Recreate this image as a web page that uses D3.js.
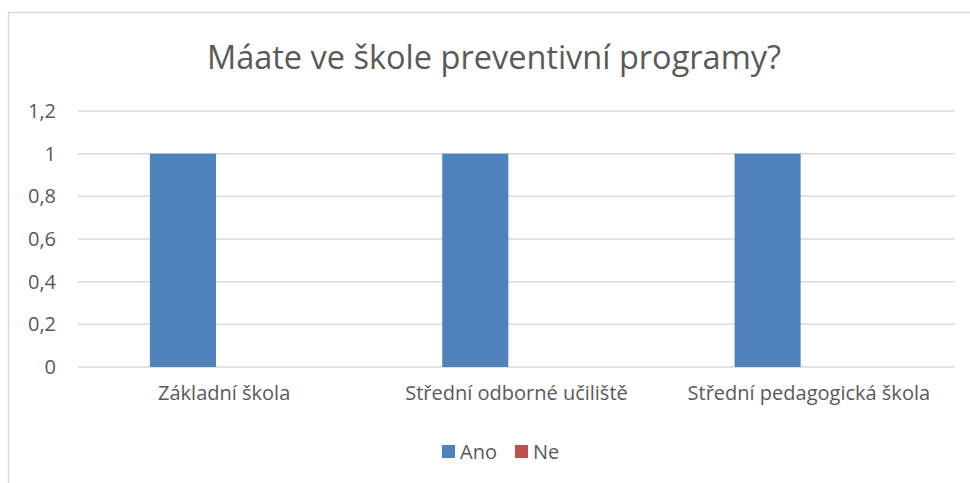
<!DOCTYPE html>
<html>
<head>
<meta charset="utf-8">
<script src="https://cdn.jsdelivr.net/npm/d3@7"></script>
<style>
  html, body { margin: 0; padding: 0; background: #fff; }
  svg text { font-family: "Open Sans", "Noto Sans", sans-serif; fill: #595959; }
</style>
</head>
<body>
<script>
// data
const categories = ["Základní škola", "Střední odborné učiliště", "Střední pedagogická škola"];
const seriesNames = ["Ano", "Ne"];
const anoValues = [1, 1, 1];
const neValues = [0, 0, 0];
const yTicks = [0, 0.2, 0.4, 0.6, 0.8, 1, 1.2];
const colors = ["#4F81BD", "#C0504D"];
const title = "Máate ve škole preventivní programy?";

const onReady = () => {
  const width = 970, height = 483;
  const margin = { top: 111, right: 15, bottom: 116, left: 78 };

  const svg = d3.select("body").append("svg")
    .attr("width", width)
    .attr("height", height);

  // chart frame
  svg.append("rect")
    .attr("x", 8.5).attr("y", 12.5)
    .attr("width", width + 10).attr("height", height + 10)
    .attr("fill", "none")
    .attr("stroke", "#d9d9d9")
    .attr("stroke-width", 1.5);

  const rows = categories.map((c, i) => ({ cat: c, Ano: anoValues[i], Ne: neValues[i] }));

  const x0 = d3.scaleBand()
    .domain(categories)
    .range([margin.left, width - margin.right]);
  const bw = x0.bandwidth();
  const x1 = d3.scaleBand()
    .domain(seriesNames)
    .range([bw * 0.246, bw * 0.698]);
  const y = d3.scaleLinear()
    .domain([0, 1.2])
    .range([height - margin.bottom, margin.top]);
  const color = d3.scaleOrdinal().domain(seriesNames).range(colors);

  // gridlines
  svg.append("g")
    .selectAll("line")
    .data(yTicks)
    .join("line")
    .attr("x1", margin.left)
    .attr("x2", width - margin.right)
    .attr("y1", d => y(d))
    .attr("y2", d => y(d))
    .attr("stroke", "#d9d9d9")
    .attr("stroke-width", 1.5);

  // y axis labels
  const fmt = d => String(d).replace(".", ",");
  const yAxis = svg.append("g")
    .attr("transform", `translate(${margin.left - 22},0)`)
    .call(d3.axisLeft(y).tickValues(yTicks).tickFormat(fmt).tickSize(0).tickPadding(0));
  yAxis.select(".domain").remove();
  yAxis.selectAll("text")
    .style("font-size", "20px")
    .attr("fill", "#595959");

  // bars
  svg.append("g")
    .selectAll("g")
    .data(rows)
    .join("g")
    .attr("transform", d => `translate(${x0(d.cat)},0)`)
    .selectAll("rect")
    .data(d => seriesNames.map(s => ({ key: s, value: d[s] })))
    .join("rect")
    .attr("x", d => x1(d.key))
    .attr("width", x1.bandwidth())
    .attr("y", d => y(d.value))
    .attr("height", d => y(0) - y(d.value))
    .attr("fill", d => color(d.key));

  // x axis labels
  const xAxis = svg.append("g")
    .attr("transform", `translate(0,${y(0) + 19})`)
    .call(d3.axisBottom(x0).tickSize(0).tickPadding(0));
  xAxis.select(".domain").remove();
  xAxis.selectAll("text")
    .style("font-size", "20px")
    .attr("fill", "#595959");

  // title
  svg.append("text")
    .attr("x", 494)
    .attr("y", 69)
    .attr("text-anchor", "middle")
    .style("font-size", "32.5px")
    .text(title);

  // legend
  const legend = svg.append("g").attr("transform", "translate(442,445)");
  const item = legend.selectAll("g")
    .data(seriesNames)
    .join("g")
    .attr("transform", (d, i) => `translate(${i * 73},0)`);
  item.append("rect")
    .attr("width", 13).attr("height", 13)
    .attr("fill", d => color(d));
  item.append("text")
    .attr("x", 18)
    .attr("y", 14)
    .style("font-size", "20px")
    .text(d => d);
};
document.addEventListener("DOMContentLoaded", onReady);
</script>
</body>
</html>
